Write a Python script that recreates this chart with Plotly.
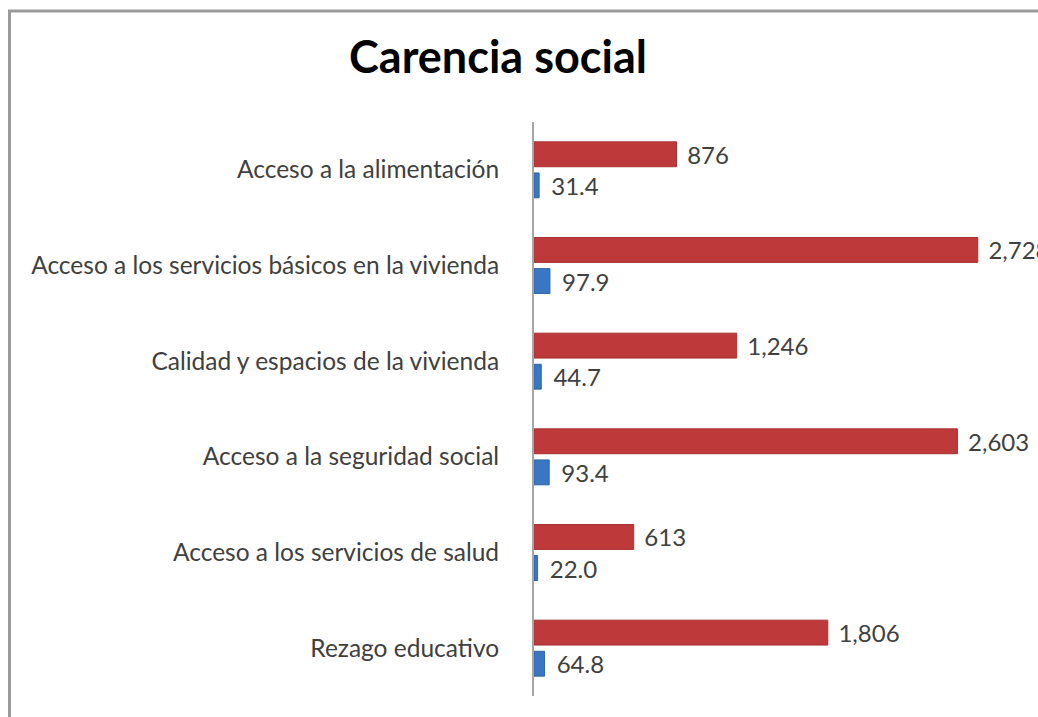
import plotly.graph_objects as go

# Carencia social data (top to bottom as in the chart)
categorias = [
    "Acceso a la alimentación",
    "Acceso a los servicios básicos en la vivienda",
    "Calidad y espacios de la vivienda",
    "Acceso a la seguridad social",
    "Acceso a los servicios de salud",
    "Rezago educativo",
]
personas = [876, 2728, 1246, 2603, 613, 1806]
porcentaje = [31.4, 97.9, 44.7, 93.4, 22.0, 64.8]

text_color = "#404040"
font_family = "Lato, 'Open Sans', sans-serif"

W, H = 1038, 717
L, R, T, B = 534, 16, 122, 21
plot_w = W - L - R
plot_h = H - T - B

fig = go.Figure()

fig.add_trace(go.Bar(
    y=categorias, x=personas, orientation="h",
    name="Personas",
    marker=dict(color="#BE3A3A", line=dict(color="#A83030", width=1)),
    texttemplate="\u00a0\u200a%{x:,}",
    textposition="outside", constraintext="none",
    textfont=dict(size=24, color=text_color, family=font_family),
    cliponaxis=False,
))
fig.add_trace(go.Bar(
    y=categorias, x=porcentaje, orientation="h",
    name="Porcentaje",
    marker=dict(color="#3A77C2", line=dict(color="#2F65A8", width=1)),
    texttemplate="\u00a0\u2009%{x:.1f}",
    textposition="outside", constraintext="none",
    textfont=dict(size=24, color=text_color, family=font_family),
    cliponaxis=False,
))

# outer gray border of the chart area (cut off at right/bottom)
fig.add_shape(type="rect", xref="paper", yref="paper",
              x0=(9.5 - L) / plot_w, x1=1.3, y0=-0.2, y1=(H - B - 11) / plot_h,
              line=dict(color="#9A9A9A", width=3), layer="below")

fig.update_layout(
    width=W, height=H,
    margin=dict(l=L, r=R, t=T, b=B),
    paper_bgcolor="white", plot_bgcolor="white",
    barmode="group", bargap=0.35, bargroupgap=0.2,
    showlegend=False,
    title=dict(text="<b>Carencia social</b>", x=498 / W, xanchor="center",
               xref="container", yref="container", y=1 - 57 / H, yanchor="middle",
               font=dict(size=45, color="black", family=font_family)),
    font=dict(family=font_family, color=text_color),
    xaxis=dict(range=[0, 3000], visible=False, showgrid=False),
    yaxis=dict(autorange="reversed", showline=True, linecolor="#A6A6A6", linewidth=2,
               ticks="", showgrid=False, ticklabelstandoff=28,
               tickfont=dict(size=24.5, color=text_color, family=font_family)),
)

# drop the default body margin so the figure fills the window exactly
fig.write_html("out.html", config={"displayModeBar": False},
               post_script="document.body.style.margin='0';")
